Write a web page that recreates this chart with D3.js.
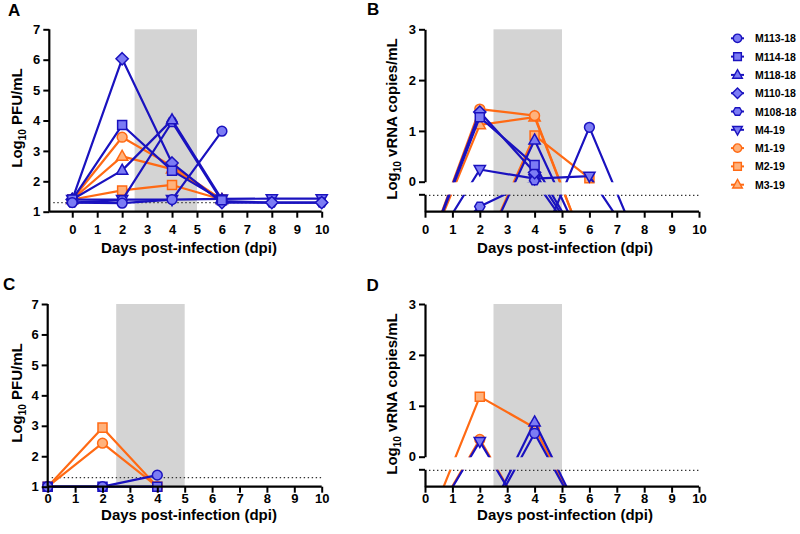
<!DOCTYPE html>
<html><head><meta charset="utf-8">
<script src="https://cdn.jsdelivr.net/npm/d3@7"></script>
<style>
body{margin:0;background:#fff}
svg{display:block}
text{font-family:"Liberation Sans",Arial,sans-serif;font-weight:bold;fill:#000}
</style>
</head><body>
<svg id="chart" width="800" height="534"></svg>
<script>
// ---------------- DATA ----------------
const seriesNames  = ["M113-18","M114-18","M118-18","M110-18","M108-18","M4-19","M1-19","M2-19","M3-19"];
const seriesShapes = ["circle","square","triangle","diamond","hexagon","triangleDown","circle","square","triangle"];
const seriesGroups = ["blue","blue","blue","blue","blue","blue","orange","orange","orange"];

const xTicks   = [0,1,2,3,4,5,6,7,8,9,10];
const yTicksPFU = [1,2,3,4,5,6,7];
const yTicksRNA = [0,1,2,3];

// Panel A: Log10 PFU/mL, days 0..10 (null = not sampled)
const daysA = [0,2,4,6,8,10];
const valuesA = [
  [1.30, 1.28, 1.40, 3.65, null, null], // M113-18
  [1.40, 3.85, 2.35, 1.38, null, null], // M114-18
  [1.40, 2.36, 4.02, 1.40, null, null], // M118-18
  [1.40, 6.03, 2.60, 1.30, 1.30, 1.30], // M110-18
  [1.30, 1.38, 3.95, 1.35, 1.30, 1.30], // M108-18
  [1.40, 1.40, 1.40, 1.42, 1.43, 1.43], // M4-19
  [1.40, 3.45, 2.50, 1.40, null, null], // M1-19
  [1.40, 1.70, 1.88, 1.40, null, null], // M2-19
  [1.40, 2.82, 2.40, 1.40, null, null]  // M3-19
];

// Panel B: Log10 vRNA copies/mL (values below the axis = not detected, off scale)
const daysB = [0,2,4,6,8];
const valuesB = [
  [-1.5, -1.5, -1.5, 1.07, -1.5], // M113-18
  [-1.5, 1.27, 0.33, -1.5, -1.5], // M114-18
  [-1.5, -1.5, 0.82, -1.5, -1.5], // M118-18
  [-1.5, 1.37, 0.18, -1.5, -1.5], // M110-18
  [-1.5, -0.49, 0.03, -1.5, -1.5],// M108-18
  [-1.5, 0.24, 0.06, 0.11, -1.5], // M4-19
  [-1.5, 1.43, 1.30, -1.5, -1.5], // M1-19
  [-1.5, -1.5, 0.91, 0.07, null], // M2-19
  [-1.5, 1.12, 1.27, -1.5, -1.5]  // M3-19
];

// Panel C: Log10 PFU/mL
const daysC = [0,2,4];
const valuesC = [
  [1.00, 1.00, 1.38], // M113-18
  [1.00, 1.00, 1.00], // M114-18
  null, null, null, null,
  [1.00, 2.43, 1.00], // M1-19
  [1.00, 2.94, 1.00], // M2-19
  null
];

// Panel D: Log10 vRNA copies/mL
const daysD = [0,2,4,6];
const valuesD = [
  [-1.5, -1.5, 0.46, -1.5], // M113-18
  null,
  [-1.5, -1.5, 0.68, -1.5], // M118-18
  null, null,
  [-1.5, 0.30, -1.5, -1.5], // M4-19
  [-1.5, 0.34, -1.5, -1.5], // M1-19
  [-1.5, 1.18, 0.57, -1.5], // M2-19
  null
];

const lodPFU = 1.3;
const lodRNA = -0.27;
const shadeDays = [2.5, 5];

// ---------------- STYLE ----------------
const colors = {
  blue:   {line:"#1a12bf", fill:"#7c7cf4"},
  orange: {line:"#ff6a14", fill:"#ffb27c"}
};

function shapePath(shape, r){
  switch(shape){
    case "circle": return d3.symbol(d3.symbolCircle, Math.PI*r*r)();
    case "square": { const a=r*0.92; return `M${-a},${-a}H${a}V${a}H${-a}Z`; }
    case "triangle": return `M0,${-r*1.25}L${r*1.15},${r*0.8}L${-r*1.15},${r*0.8}Z`;
    case "triangleDown": return `M0,${r*1.25}L${r*1.15},${-r*0.8}L${-r*1.15},${-r*0.8}Z`;
    case "diamond": { const a=r*1.25; return `M0,${-a}L${a},0L0,${a}L${-a},0Z`; }
    case "hexagon": {
      const pts=d3.range(6).map(i=>[r*1.05*Math.cos(i*Math.PI/3), r*1.05*Math.sin(i*Math.PI/3)]);
      return "M"+pts.map(p=>p.join(",")).join("L")+"Z";
    }
  }
}

const svg = d3.select("#chart");

function drawPanel(cfg){
  const g = svg.append("g");
  const {x, y, days, values, yTicks, xLeft, yTop, yBottom, broken} = cfg;
  const xRight = x(10);

  // shaded period
  g.append("rect")
    .attr("x", x(shadeDays[0])).attr("y", yTop)
    .attr("width", x(shadeDays[1]) - x(shadeDays[0]))
    .attr("height", yBottom - yTop)
    .attr("fill", "#d4d4d4");

  // LOD dotted line
  g.append("line")
    .attr("x1", xLeft + 4).attr("x2", xRight)
    .attr("y1", y(cfg.lod)).attr("y2", y(cfg.lod))
    .attr("stroke", "#333").attr("stroke-width", 1.3)
    .attr("stroke-dasharray", "1.4,2.6");

  // clip for lines
  const clipId = "clip" + cfg.id;
  const cp = svg.append("clipPath").attr("id", clipId);
  if (broken){
    cp.append("rect").attr("x", xLeft).attr("y", yTop - 20).attr("width", xRight - xLeft + 20).attr("height", broken.gapTop - (yTop - 20));
    cp.append("rect").attr("x", xLeft).attr("y", broken.gapBottom).attr("width", xRight - xLeft + 20).attr("height", yBottom - broken.gapBottom);
  } else {
    cp.append("rect").attr("x", xLeft - 20).attr("y", yTop - 20).attr("width", xRight - xLeft + 40).attr("height", yBottom - yTop + 40);
  }

  const line = d3.line()
    .defined(d => d.v !== null)
    .x(d => x(d.d)).y(d => y(d.v));

  const order = d3.range(seriesNames.length).reverse();
  order.forEach(i => {
    const vals = values[i];
    if (!vals) return;
    const col = colors[seriesGroups[i]];
    const pts = days.map((d, j) => ({d, v: vals[j]}));
    g.append("path")
      .attr("d", line(pts))
      .attr("fill", "none")
      .attr("stroke", col.line)
      .attr("stroke-width", 2.2)
      .attr("stroke-linejoin", "round")
      .attr("clip-path", `url(#${clipId})`);
    g.selectAll(null)
      .data(pts.filter(p => p.v !== null && y(p.v) <= yBottom + 0.5))
      .join("path")
      .attr("transform", p => `translate(${x(p.d)},${y(p.v)})`)
      .attr("d", shapePath(seriesShapes[i], 4.9))
      .attr("fill", col.fill)
      .attr("stroke", col.line)
      .attr("stroke-width", 1.5);
  });

  // axes
  const ax = g.append("g").attr("transform", `translate(0,${yBottom})`)
    .call(d3.axisBottom(x).tickValues(xTicks).tickFormat(d3.format("d")).tickSize(6).tickSizeOuter(0));
  ax.select(".domain").attr("d", `M${xLeft},0H${xRight}`);
  ax.selectAll("line").attr("stroke-width", 2);
  ax.select(".domain").attr("stroke-width", 2.2);
  ax.selectAll("text").attr("y", cfg.xLabelY).attr("dy", 0)
    .style("font-size", "13px").style("font-family", "Liberation Sans, Arial, sans-serif").style("font-weight", "bold");

  let yScaleTop = y;
  if (broken){
    yScaleTop = d3.scaleLinear().domain([yTicks[0], yTicks[yTicks.length-1]]).range([y(yTicks[0]), y(yTicks[yTicks.length-1])]);
  }
  const ay = g.append("g").attr("transform", `translate(${xLeft},0)`)
    .call(d3.axisLeft(yScaleTop).tickValues(yTicks).tickFormat(d3.format("d")).tickSize(6).tickSizeOuter(0));
  if (!broken) ay.select(".domain").attr("d", `M0,${yBottom}V${yTop}`);
  ay.selectAll("line").attr("stroke-width", 2);
  ay.select(".domain").attr("stroke-width", 2.2);
  ay.selectAll("text").attr("x", -9)
    .style("font-size", "13px").style("font-family", "Liberation Sans, Arial, sans-serif").style("font-weight", "bold");

  if (broken){
    const yLow = d3.scaleLinear().domain([y.invert(broken.gapBottom - 0.5), y.invert(yBottom)]).range([broken.gapBottom - 0.5, yBottom]);
    const al = g.append("g").attr("transform", `translate(${xLeft},0)`)
      .call(d3.axisLeft(yLow).tickValues([yLow.domain()[0]]).tickFormat("").tickSize(6).tickSizeOuter(0));
    al.selectAll("line").attr("stroke-width", 2);
    al.select(".domain").attr("stroke-width", 2.2);
  }

  // titles
  const yt = g.append("text")
    .attr("transform", `translate(${cfg.yTitleX},${cfg.yTitleY}) rotate(-90)`)
    .attr("text-anchor", "middle").style("font-size", "15px");
  yt.append("tspan").text("Log");
  yt.append("tspan").attr("dy", 4).style("font-size", "10px").text("10");
  yt.append("tspan").attr("dy", -4).text(cfg.yTitle);

  g.append("text").attr("x", cfg.xTitleX).attr("y", cfg.xTitleY)
    .attr("text-anchor", "middle").style("font-size", "15px")
    .text("Days post-infection (dpi)");

  g.append("text").attr("x", cfg.letterX).attr("y", cfg.letterY)
    .style("font-size", "17px").text(cfg.letter);
}

// Panel A
drawPanel({
  id:"A", letter:"A", letterX:8, letterY:16,
  x: d3.scaleLinear().domain([-0.92, 10]).range([49.3, 321.7]),
  y: d3.scaleLinear().domain([1, 7]).range([211.7, 29.3]),
  xLeft:49.3, yTop:29.3, yBottom:211.7,
  days:daysA, values:valuesA, yTicks:yTicksPFU, lod:lodPFU,
  xLabelY:22, xTitleX:189, xTitleY:253,
  yTitle:" PFU/mL", yTitleX:21.5, yTitleY:118
});
// Panel B
drawPanel({
  id:"B", letter:"B", letterX:367, letterY:15,
  x: d3.scaleLinear().domain([0, 10]).range([425, 699]),
  y: d3.scaleLinear().domain([0, 3]).range([181.7, 29.3]),
  xLeft:425, yTop:29.3, yBottom:211.7,
  broken:{gapTop:182.2, gapBottom:194.8},
  days:daysB, values:valuesB, yTicks:yTicksRNA, lod:lodRNA,
  xLabelY:22, xTitleX:565, xTitleY:253,
  yTitle:" vRNA copies/mL", yTitleX:396.5, yTitleY:119
});
// Panel C
drawPanel({
  id:"C", letter:"C", letterX:3, letterY:290,
  x: d3.scaleLinear().domain([0, 10]).range([47.7, 321.7]),
  y: d3.scaleLinear().domain([1, 7]).range([486.7, 304]),
  xLeft:47.7, yTop:304, yBottom:486.7,
  days:daysC, values:valuesC, yTicks:yTicksPFU, lod:lodPFU,
  xLabelY:16, xTitleX:189, xTitleY:520,
  yTitle:" PFU/mL", yTitleX:21.5, yTitleY:393
});
// Panel D
drawPanel({
  id:"D", letter:"D", letterX:366.5, letterY:291,
  x: d3.scaleLinear().domain([0, 10]).range([425, 699]),
  y: d3.scaleLinear().domain([0, 3]).range([456.7, 304]),
  xLeft:425, yTop:304, yBottom:486.7,
  broken:{gapTop:457.2, gapBottom:469.8},
  days:daysD, values:valuesD, yTicks:yTicksRNA, lod:lodRNA,
  xLabelY:16, xTitleX:565, xTitleY:520,
  yTitle:" vRNA copies/mL", yTitleX:396.5, yTitleY:394
});

// Legend
const legend = svg.append("g");
seriesNames.forEach((name, i) => {
  const col = colors[seriesGroups[i]];
  const cy = 38.3 + i * 18.3;
  legend.append("line").attr("x1", 731).attr("x2", 744).attr("y1", cy).attr("y2", cy)
    .attr("stroke", col.line).attr("stroke-width", 2);
  legend.append("path").attr("transform", `translate(737.5,${cy})`)
    .attr("d", shapePath(seriesShapes[i], 4.2))
    .attr("fill", col.fill).attr("stroke", col.line).attr("stroke-width", 1.4);
  legend.append("text").attr("x", 755).attr("y", cy + 4)
    .style("font-size", "10.5px").text(name);
});
</script>
</body></html>
